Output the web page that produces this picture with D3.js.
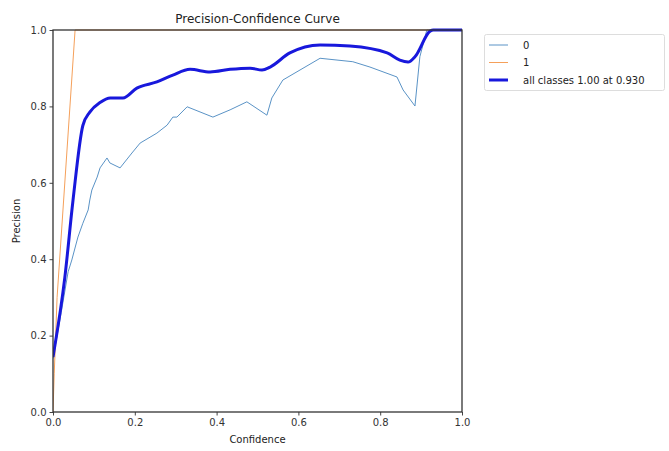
<!DOCTYPE html>
<html><head><meta charset="utf-8">
<script src="https://cdn.jsdelivr.net/npm/d3@7"></script>
<style>body{margin:0;background:#fff;font-family:"DejaVu Sans",sans-serif;}</style>
</head><body>
<svg id="c" width="669" height="451"></svg>
<script>
const xTicks = [0, 0.2, 0.4, 0.6, 0.8, 1.0];
const yTicks = [0, 0.2, 0.4, 0.6, 0.8, 1.0];
const seriesNames = ["0", "1", "all classes 1.00 at 0.930"];
const class0 = [[0,0.14],[0.02,0.26],[0.037,0.367],[0.046,0.398],[0.061,0.458],[0.073,0.494],[0.086,0.529],[0.09,0.555],[0.095,0.581],[0.108,0.615],[0.115,0.639],[0.132,0.665],[0.139,0.652],[0.164,0.639],[0.193,0.678],[0.213,0.704],[0.254,0.73],[0.279,0.751],[0.293,0.772],[0.303,0.772],[0.328,0.799],[0.391,0.772],[0.433,0.791],[0.474,0.812],[0.523,0.777],[0.535,0.822],[0.562,0.869],[0.653,0.926],[0.733,0.917],[0.775,0.903],[0.841,0.877],[0.856,0.843],[0.885,0.801],[0.897,0.93],[0.914,1.0],[1.0,1.0]];
const class1 = [[0,0.0],[0.003,0.1],[0.01,0.3],[0.054,1.0],[1.0,1.0]];
const allClasses = [[0,0.144],[0.029,0.353],[0.049,0.555],[0.073,0.75],[0.09,0.785],[0.115,0.81],[0.14,0.822],[0.171,0.822],[0.205,0.848],[0.254,0.864],[0.293,0.882],[0.335,0.897],[0.384,0.89],[0.433,0.897],[0.482,0.9],[0.511,0.895],[0.531,0.903],[0.579,0.94],[0.653,0.961],[0.726,0.958],[0.817,0.94],[0.848,0.921],[0.868,0.916],[0.885,0.93],[0.922,0.997],[0.93,1.0],[1.0,1.0]];
const colors = ["#5a93c6", "#f5a05a", "#1818dc"];
const widths = [1, 1, 3];
const curves = [d3.curveLinear, d3.curveLinear, d3.curveMonotoneX];

const svg = d3.select("#c");
const L = 53, R = 462, T = 30, B = 412;
const x = d3.scaleLinear().domain([0,1]).range([L,R]);
const y = d3.scaleLinear().domain([0,1]).range([B,T]);

svg.append("defs").append("clipPath").attr("id","clip").append("rect")
  .attr("x",L).attr("y",T-2).attr("width",R-L).attr("height",B-T+2);

const g = svg.append("g").attr("clip-path","url(#clip)");
[class0, class1, allClasses].forEach((s,i)=>{
  const line = d3.line().x(d=>x(d[0])).y(d=>y(d[1])).curve(curves[i]);
  g.append("path").datum(s).attr("d",line).attr("fill","none")
    .attr("stroke",colors[i]).attr("stroke-width",widths[i]).attr("stroke-linejoin","round");
});

const xa = svg.append("g").attr("transform",`translate(0,${B})`)
  .call(d3.axisBottom(x).tickValues(xTicks).tickFormat(d3.format(".1f")).tickSize(3.5));
const ya = svg.append("g").attr("transform",`translate(${L},0)`)
  .call(d3.axisLeft(y).tickValues(yTicks).tickFormat(d3.format(".1f")).tickSize(3.5));
[xa,ya].forEach(a=>{
  a.select(".domain").remove();
  a.selectAll("line").attr("stroke","#444");
  a.selectAll("text").attr("font-family","DejaVu Sans").attr("font-size",10).attr("fill","#333");
});
svg.append("rect").attr("x",L).attr("y",T).attr("width",R-L).attr("height",B-T)
  .attr("fill","none").attr("stroke","#333").attr("stroke-width",1.3);

svg.append("text").attr("x",(L+R)/2).attr("y",23).attr("text-anchor","middle")
  .attr("font-size",12).attr("fill","#222").text("Precision-Confidence Curve");
svg.append("text").attr("x",(L+R)/2).attr("y",443).attr("text-anchor","middle")
  .attr("font-size",10).attr("fill","#222").text("Confidence");
svg.append("text").attr("transform",`translate(20,${(T+B)/2}) rotate(-90)`).attr("text-anchor","middle")
  .attr("font-size",10).attr("fill","#222").text("Precision");

const lg = svg.append("g");
lg.append("rect").attr("x",484.5).attr("y",34.5).attr("width",180).attr("height",56)
  .attr("fill","#fff").attr("stroke","#ddd").attr("rx",2);
seriesNames.forEach((n,i)=>{
  const yy = 45 + i*17.5;
  lg.append("line").attr("x1",489).attr("x2",508).attr("y1",yy).attr("y2",yy)
    .attr("stroke",colors[i]).attr("stroke-width",widths[i]);
  lg.append("text").attr("x",523).attr("y",yy+3.5).attr("font-size",10).attr("fill","#222").text(n);
});
</script>
</body></html>
